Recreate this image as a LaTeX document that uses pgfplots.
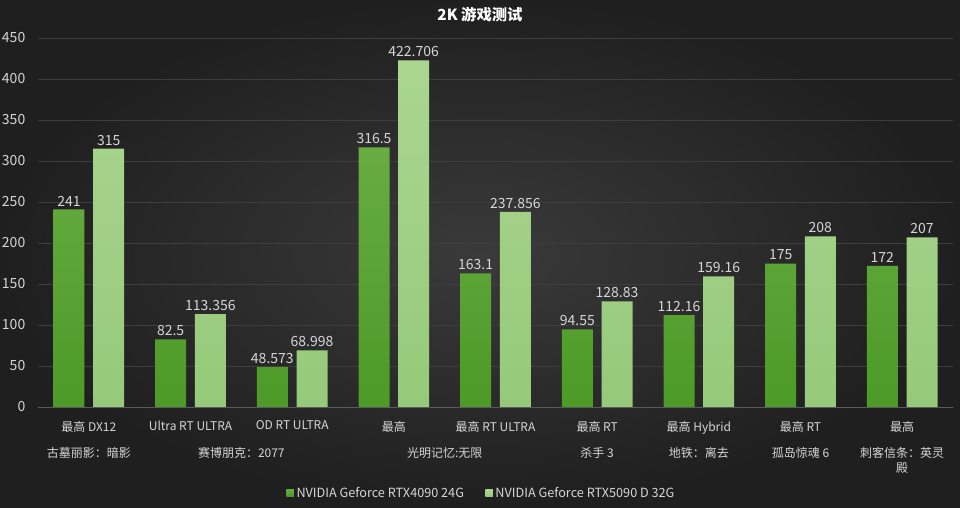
\documentclass[border=0pt]{standalone}
\usepackage{pgfplots}
\pgfplotsset{compat=1.18}
\usepackage{fontspec}
\setmainfont{Noto Sans CJK SC}

\definecolor{bgin}{HTML}{3A3A3A}
\definecolor{bgout}{HTML}{1F1F1F}
\definecolor{gdarktop}{HTML}{68AC42}
\definecolor{gdarkbot}{HTML}{4C9A27}
\definecolor{glighttop}{HTML}{AAD690}
\definecolor{glightbot}{HTML}{96C97A}
\definecolor{lbl}{HTML}{D6D6D6}
\definecolor{sep}{HTML}{5A5A5A}
\definecolor{gridc}{HTML}{3E3E3E}

\begin{document}
\begin{tikzpicture}
  \useasboundingbox (0,0) rectangle (720pt,380.25pt);
  \shade[inner color=bgin, outer color=bgout] (0,0) rectangle (720pt,380.25pt);
  \node[text=white, font=\fontsize{11.5}{13}\selectfont\bfseries] at (360pt,369pt) {2K 游戏测试};

  \begin{axis}[
    at={(28.5pt,75pt)}, anchor=south west,
    scale only axis,
    width=686.25pt, height=276.75pt,
    xmin=-0.5, xmax=8.5,
    ymin=0, ymax=450,
    ytick={0,50,...,450},
    xtick={0,...,8},
    xticklabels={最高 DX12, Ultra RT ULTRA, OD RT ULTRA, 最高, 最高 RT ULTRA, 最高 RT, 最高 Hybrid, 最高 RT, 最高},
    extra x ticks={0,1.5,3.5,5,6,7,8},
    extra x tick labels={古墓丽影：暗影, 赛博朋克：2077, 光明记忆:无限, 杀手 3, 地铁：离去, 孤岛惊魂 6, {刺客信条：英灵\\殿}},
    extra x tick style={major tick length=0pt, grid=none,
      xticklabel style={yshift=-20pt}},
    major tick length=0pt,
    axis line style={draw=none},
    ymajorgrids,
    grid style={gridc, line width=0.4pt},
    /pgf/number format/assume math mode=true,
    yticklabel style={text=lbl, font=\fontsize{10.5}{12}\selectfont, anchor=east, xshift=-6pt},
    xticklabel style={text=lbl, font=\fontsize{9}{11}\selectfont, align=center, yshift=-7pt},
    ybar=6.5pt,
    bar width=23.25pt,
    point meta=explicit symbolic,
    nodes near coords,
    every node near coord/.append style={text=lbl, font=\fontsize{10.5}{12}\selectfont, yshift=-1pt},
    legend style={draw=none, fill=none, text=lbl, font=\fontsize{9.5}{11}\selectfont,
      at={(0.485,-0.233)}, anchor=center, legend columns=2,
      /tikz/every even column/.append style={column sep=14pt}},
    legend image code/.code={\fill[#1] (0pt,-2.8pt) rectangle (5.6pt,2.8pt);},
  ]
    \addplot[draw=none, top color=gdarktop, bottom color=gdarkbot] coordinates {
      (0,241) [241]
      (1,82.5) [82.5]
      (2,48.573) [48.573]
      (3,316.5) [316.5]
      (4,163.1) [163.1]
      (5,94.55) [94.55]
      (6,112.16) [112.16]
      (7,175) [175]
      (8,172) [172]
    };
    \addlegendentry{NVIDIA Geforce RTX4090 24G}
    \addplot[draw=none, top color=glighttop, bottom color=glightbot] coordinates {
      (0,315) [315]
      (1,113.356) [113.356]
      (2,68.998) [68.998]
      (3,422.706) [422.706]
      (4,237.856) [237.856]
      (5,128.83) [128.83]
      (6,159.16) [159.16]
      (7,208) [208]
      (8,207) [207]
    };
    \addlegendentry{NVIDIA Geforce RTX5090 D 32G}

    \draw[sep, line width=0.6pt] (axis cs:-0.5,0) -- (axis cs:8.5,0);
    \pgfplotsinvokeforeach{-0.5,0.5,2.5,4.5,5.5,6.5,7.5,8.5}{
      \draw[sep, line width=0.6pt] (axis cs:#1,0) -- ++(0,-55pt);
    }
  \end{axis}
\end{tikzpicture}
\end{document}
